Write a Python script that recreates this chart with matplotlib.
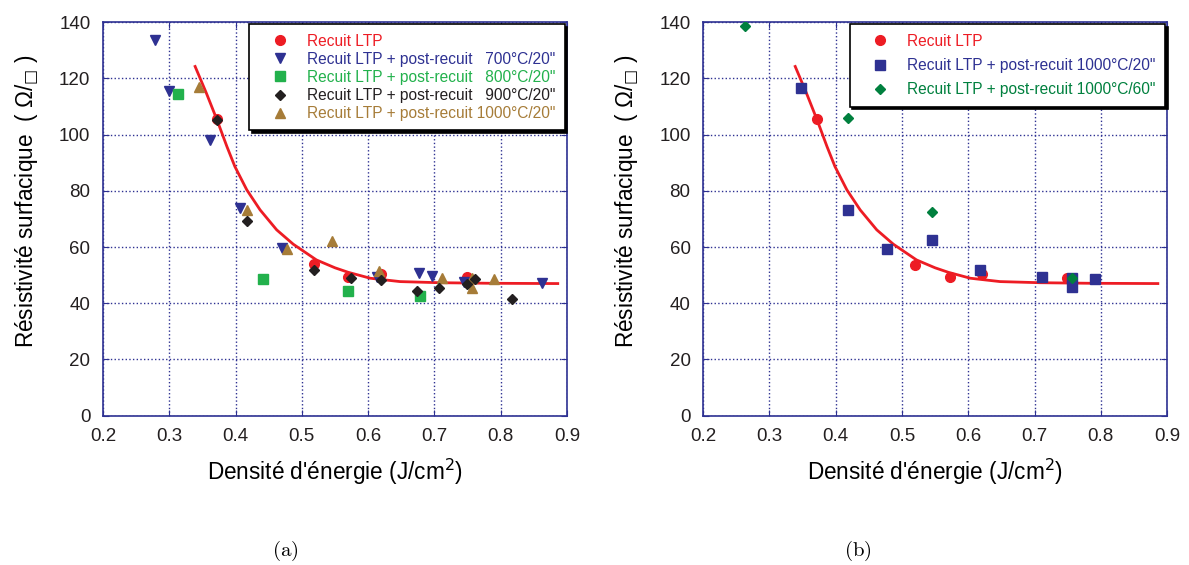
import numpy as np
import matplotlib.pyplot as plt

plt.rcParams['font.family'] = ['Liberation Sans', 'DejaVu Sans']
plt.rcParams['mathtext.fontset'] = 'dejavusans'

# ---- (a) data
ltp_x = [0.372, 0.519, 0.570, 0.620, 0.749]
ltp_y = [105.6, 53.9, 49.5, 50.3, 49.2]

pr700_x = [0.278, 0.300, 0.361, 0.406, 0.470, 0.613, 0.677, 0.696, 0.745, 0.862]
pr700_y = [133.5, 115.5, 97.9, 73.8, 59.8, 49.2, 50.7, 49.7, 47.7, 47.1]

pr800_x = [0.313, 0.441, 0.570, 0.678]
pr800_y = [114.5, 48.5, 44.4, 42.6]

pr900_x = [0.372, 0.417, 0.519, 0.574, 0.620, 0.673, 0.707, 0.749, 0.761, 0.817]
pr900_y = [105.0, 69.3, 51.8, 48.9, 48.3, 44.4, 45.4, 46.9, 48.5, 41.6]

pr1000_x = [0.345, 0.417, 0.477, 0.546, 0.617, 0.711, 0.756, 0.756, 0.790]
pr1000_y = [116.8, 73.2, 59.2, 62.3, 51.6, 49.1, 48.9, 45.3, 48.5]

# fit curve (same in both panels)
fit_x = [0.339, 0.356, 0.372, 0.387, 0.399, 0.417, 0.437, 0.462, 0.487, 0.522,
         0.550, 0.570, 0.603, 0.648, 0.708, 0.784, 0.886]
fit_y = [124.2, 114.7, 105.2, 95.7, 88.6, 80.3, 73.2, 66.1, 61.0, 55.4,
         52.6, 51.0, 48.9, 47.7, 47.3, 47.1, 47.0]

# ---- (b) data
ltp_b_x = [0.372, 0.520, 0.573, 0.621, 0.749]
ltp_b_y = [105.6, 53.6, 49.5, 50.3, 49.1]

b20_x = [0.347, 0.418, 0.478, 0.546, 0.618, 0.712, 0.757, 0.757, 0.791]
b20_y = [116.7, 73.2, 59.2, 62.5, 51.8, 49.2, 48.9, 45.6, 48.5]

b60_x = [0.263, 0.418, 0.546, 0.757]
b60_y = [138.7, 106.0, 72.4, 49.1]

x_ticks = [0.2, 0.3, 0.4, 0.5, 0.6, 0.7, 0.8, 0.9]
y_ticks = [0, 20, 40, 60, 80, 100, 120, 140]

RED = '#ed1c24'
BLUE = '#2e3192'
GREEN = '#22b14c'
BLACK = '#231f20'
BROWN = '#a67c38'
DKGREEN = '#00803e'
AXC = '#2e3192'


def style_axes(ax):
    ax.set_xlim(0.2, 0.9)
    ax.set_ylim(0, 140)
    ax.set_xticks(x_ticks)
    ax.set_yticks(y_ticks)
    ax.set_xticklabels(['%.1f' % v for v in x_ticks])
    ax.grid(True, color=AXC, linestyle=':', linewidth=1.0)
    for s in ax.spines.values():
        s.set_color(AXC)
        s.set_linewidth(1.2)
    ax.tick_params(direction='in', color=AXC, labelcolor=BLACK, labelsize=13.5,
                   top=True, right=True, length=4)
    ax.tick_params(axis='y', pad=9)
    ax.tick_params(axis='x', pad=9)
    ax.set_xlabel("Densité d'énergie (J/cm$^2$)", fontsize=16.3, labelpad=8)
    ax.set_ylabel("Résistivité surfacique  ( Ω/$_{\u25a1}$ )", fontsize=16.3)
    ax.yaxis.set_label_coords(-0.134, 0.544)


def make_legend(ax, colors, spacing):
    leg = ax.legend(loc='upper right', bbox_to_anchor=(1, 1), borderaxespad=0.15,
                    fontsize=11.2, fancybox=False,
                    shadow={'color': 'black', 'alpha': 1},
                    edgecolor='black', framealpha=1, handlelength=2.75,
                    handletextpad=0.35, labelspacing=spacing, borderpad=0.6)
    leg.get_frame().set_linewidth(1.2)
    for t, c in zip(leg.get_texts(), colors):
        t.set_color(c)
    return leg


fig = plt.figure(figsize=(11.89, 5.65), dpi=100)
ax1 = fig.add_axes([0.0866, 0.2642, 0.3903, 0.6968])
ax2 = fig.add_axes([0.5913, 0.2642, 0.3903, 0.6968])

# =============================================================================
# (a)
# =============================================================================
ax1.plot(fit_x, fit_y, color=RED, linewidth=2, zorder=2)
ax1.plot(ltp_x, ltp_y, 'o', color=RED, ms=7, ls='none', label='Recuit LTP', zorder=3)
ax1.plot(pr700_x, pr700_y, 'v', color=BLUE, ms=7.5, ls='none',
         label='Recuit LTP + post-recuit   700°C/20"', zorder=3)
ax1.plot(pr800_x, pr800_y, 's', color=GREEN, ms=7, ls='none',
         label='Recuit LTP + post-recuit   800°C/20"', zorder=3)
ax1.plot(pr900_x, pr900_y, 'D', color=BLACK, ms=5.5, ls='none',
         label='Recuit LTP + post-recuit   900°C/20"', zorder=4)
ax1.plot(pr1000_x, pr1000_y, '^', color=BROWN, ms=7.5, ls='none',
         label='Recuit LTP + post-recuit 1000°C/20"', zorder=3)
style_axes(ax1)
make_legend(ax1, [RED, BLUE, GREEN, BLACK, BROWN], 0.2)

# =============================================================================
# (b)
# =============================================================================
ax2.plot(fit_x, fit_y, color=RED, linewidth=2, zorder=2)
ax2.plot(ltp_b_x, ltp_b_y, 'o', color=RED, ms=7, ls='none', label='Recuit LTP', zorder=3)
ax2.plot(b20_x, b20_y, 's', color=BLUE, ms=7, ls='none',
         label='Recuit LTP + post-recuit 1000°C/20"', zorder=3)
ax2.plot(b60_x, b60_y, 'D', color=DKGREEN, ms=5, ls='none',
         label='Recuit LTP + post-recuit 1000°C/60"', zorder=4)
style_axes(ax2)
make_legend(ax2, [RED, BLUE, DKGREEN], 0.6)

fig.text(0.2397, 0.025, r'$\mathrm{(a)}$', fontsize=15, ha='center', va='center',
         math_fontfamily='cm')
fig.text(0.7217, 0.025, r'$\mathrm{(b)}$', fontsize=15, ha='center', va='center',
         math_fontfamily='cm')

plt.savefig('out.png', dpi=100)
